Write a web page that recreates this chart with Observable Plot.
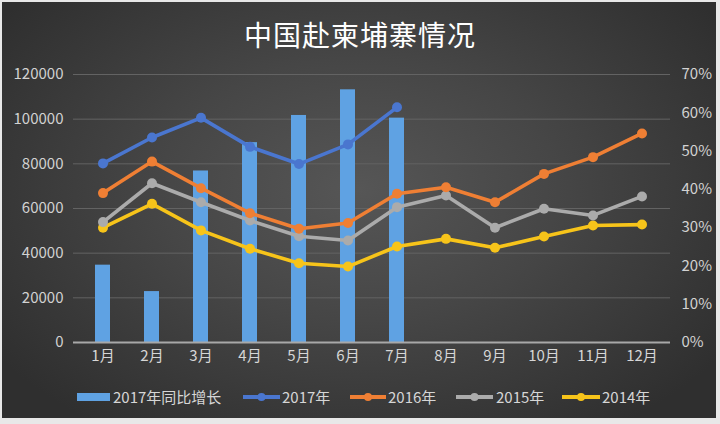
<!DOCTYPE html>
<html>
<head>
<meta charset="utf-8">
<script src="https://cdn.jsdelivr.net/npm/d3@7"></script>
<script src="https://cdn.jsdelivr.net/npm/@observablehq/plot@0.6"></script>
<style>
  html, body { margin: 0; padding: 0; background: #e8e8e8; }
  #wrap { position: relative; width: 720px; height: 424px; overflow: hidden; font-family: "Noto Sans CJK SC", "Noto Sans", sans-serif; }
  #box { position: absolute; left: 2px; top: 2px; width: 714px; height: 416px;
         background: radial-gradient(ellipse 62% 70% at 50% 45%, #565656 0%, #464646 45%, #2f2f2f 100%); }
  #title { position: absolute; left: 0; top: 14px; width: 720px; text-align: center; color: #ffffff;
           font-size: 28px; line-height: 40px; letter-spacing: 1px; }
  #chart { position: absolute; left: 0; top: 62px; }
  #legend { position: absolute; left: 0; top: 384px; width: 720px; height: 26px; color: #d6d6d6; font-size: 15px; }
  .item { position: absolute; top: 0; height: 26px; line-height: 26px; white-space: nowrap; }
</style>
</head>
<body>
<div id="wrap">
  <div id="box"></div>
  <div id="title">中国赴柬埔寨情况</div>
  <div id="chart"></div>
  <div id="legend"></div>
</div>
<script>
const months = ["1月","2月","3月","4月","5月","6月","7月","8月","9月","10月","11月","12月"];
// 2017年同比增长 (%), right axis
const growth2017 = [20.2, 13.3, 44.8, 52.2, 59.3, 66.0, 58.6];
// visitors, left axis
const s2017 = [80200, 91800, 100600, 87600, 79900, 88700, 105300];
const s2016 = [66900, 81000, 69100, 57900, 50900, 53500, 66600, 69500, 62800, 75500, 83000, 93600];
const s2015 = [53900, 71300, 62800, 54600, 47600, 45700, 60600, 65800, 51400, 59900, 56900, 65400];
const s2014 = [51400, 62100, 50200, 42000, 35500, 34000, 43000, 46400, 42400, 47500, 52400, 52800];
const leftTicks = [0, 20000, 40000, 60000, 80000, 100000, 120000];
const rightTicks = [0, 10, 20, 30, 40, 50, 60, 70];
const seriesNames = ["2017年同比增长", "2017年", "2016年", "2015年", "2014年"];
const seriesColors = ["#5fa2e3", "#4a76cf", "#ef7f34", "#ababab", "#f7c41a"];

const leftMax = 120000, rightMax = 70;
const toLeft = p => p / rightMax * leftMax;

const barData = growth2017.map((v, i) => ({month: months[i], y: toLeft(v)}));
const lineSets = [
  {name: "2017年", color: seriesColors[1], values: s2017},
  {name: "2016年", color: seriesColors[2], values: s2016},
  {name: "2015年", color: seriesColors[3], values: s2015},
  {name: "2014年", color: seriesColors[4], values: s2014}
].map(s => ({...s, data: s.values.map((v, i) => ({month: months[i], value: v}))}));

const lineMarks = [];
for (const s of lineSets.slice().reverse()) {
  lineMarks.push(Plot.line(s.data, {x: "month", y: "value", stroke: s.color, strokeWidth: 3.6, strokeLinejoin: "round"}));
  lineMarks.push(Plot.dot(s.data, {x: "month", y: "value", fill: s.color, r: 5}));
}

const fontFamily = '"Noto Sans CJK SC", "Noto Sans", sans-serif';
const chart = Plot.plot({
  width: 720,
  height: 314,
  marginLeft: 73,
  marginRight: 50,
  marginTop: 12,
  marginBottom: 34,
  style: {background: "transparent", color: "#d2d2d2", fontFamily, fontSize: "15px"},
  x: {domain: months, type: "band", paddingInner: 0.7, paddingOuter: 0.35, axis: null},
  y: {domain: [0, leftMax], axis: null},
  marks: [
    Plot.ruleY(leftTicks.slice(1), {stroke: "#636363", strokeWidth: 1}),
    Plot.barY(barData, {x: "month", y: "y", fill: seriesColors[0]}),
    Plot.ruleY([0], {stroke: "#a8a8a8", strokeWidth: 2}),
    ...lineMarks,
    Plot.axisY(leftTicks, {anchor: "left", tickSize: 0, tickPadding: 10, tickFormat: d => String(d), label: null, fontSize: 15, fill: "#d2d2d2"}),
    Plot.axisY(rightTicks.map(toLeft), {anchor: "right", tickSize: 0, tickPadding: 11, tickFormat: d => Math.round(d / leftMax * rightMax) + "%", label: null, fontSize: 15, fill: "#d2d2d2"}),
    Plot.axisX(months, {anchor: "bottom", tickSize: 0, tickPadding: 8, label: null, fontSize: 15, fill: "#d6d6d6"})
  ]
});
document.getElementById("chart").appendChild(chart);

// Legend
const legend = document.getElementById("legend");
const layout = [
  {sw: 77, swW: 33, tx: 113, bar: true},
  {sw: 243, swW: 37, tx: 282},
  {sw: 350, swW: 36, tx: 388},
  {sw: 456, swW: 37, tx: 496},
  {sw: 562, swW: 38, tx: 602}
];
seriesNames.forEach((name, i) => {
  const L = layout[i];
  const sw = document.createElementNS("http://www.w3.org/2000/svg", "svg");
  sw.setAttribute("width", L.swW);
  sw.setAttribute("height", 26);
  sw.style.position = "absolute";
  sw.style.left = L.sw + "px";
  sw.style.top = "0px";
  if (L.bar) {
    sw.innerHTML = `<rect x="0" y="9" width="${L.swW}" height="8" fill="${seriesColors[i]}"/>`;
  } else {
    sw.innerHTML = `<line x1="0" x2="${L.swW}" y1="13" y2="13" stroke="${seriesColors[i]}" stroke-width="4"/><circle cx="${L.swW/2}" cy="13" r="4" fill="${seriesColors[i]}"/>`;
  }
  legend.appendChild(sw);
  const t = document.createElement("div");
  t.className = "item";
  t.style.left = L.tx + "px";
  t.textContent = name;
  legend.appendChild(t);
});
</script>
</body>
</html>
